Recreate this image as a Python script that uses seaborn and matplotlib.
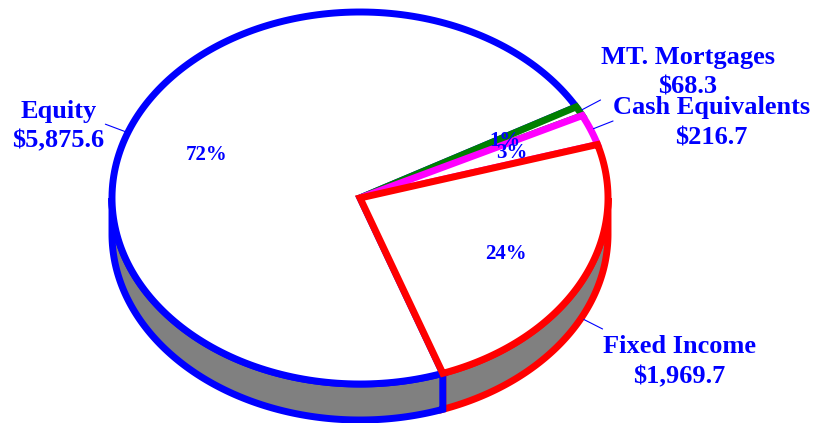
import numpy as np
import matplotlib
matplotlib.use("Agg")
import matplotlib.pyplot as plt
from matplotlib.patches import Polygon
import seaborn as sns

# data
labels = ["Fixed Income", "Cash Equivalents", "MT. Mortgages", "Equity"]
values = [1969.7, 216.7, 68.3, 5875.6]
value_text = ["$1,969.7", "$216.7", "$68.3", "$5,875.6"]
colors = ["#ff0000", "#ff00ff", "#008000", "#0000ff"]

sns.set_theme(style="white")
plt.rcParams["font.family"] = ["Liberation Serif", "DejaVu Serif"]

fig = plt.figure(figsize=(8.16, 4.23), dpi=100)
ax = fig.add_axes([0, 0, 1, 1])
ax.set_xlim(0, 816)
ax.set_ylim(423, 0)
ax.axis("off")

cx, cy = 360, 198
rx, ry = 248, 186
depth = 36
lw = 5
start = -70.5

total = sum(values)
spans = [v / total * 360 for v in values]
t0 = start + np.concatenate([[0], np.cumsum(spans)[:-1]])
t1 = t0 + np.array(spans)


def arc(a, b, dy=0, n=200):
    t = np.radians(np.linspace(a, b, n))
    return np.column_stack([cx + rx * np.cos(t), cy - ry * np.sin(t) + dy])


# side walls (front half only), fixed income first so equity edge sits on top
for i in [0, 3]:
    a, b = t0[i], t1[i]
    lo, hi = max(a, -180), min(b, 0)
    if a > 0:
        lo, hi = max(a - 360, -180), min(b - 360, 0)
    if hi <= lo:
        continue
    pts = np.vstack([arc(lo, hi), arc(hi, lo, depth)])
    ax.add_patch(Polygon(pts, closed=True, facecolor="#808080",
                         edgecolor=colors[i], lw=lw, joinstyle="miter"))

# top faces
for i in [3, 2, 1, 0]:
    pts = np.vstack([[cx, cy], arc(t0[i], t1[i])])
    ax.add_patch(Polygon(pts, closed=True, facecolor="white",
                         edgecolor=colors[i], lw=lw, joinstyle="miter"))

# percent labels
for i in range(4):
    m = np.radians((t0[i] + t1[i]) / 2)
    ax.text(cx + 0.66 * rx * np.cos(m), cy - 0.66 * ry * np.sin(m),
            "%.0f%%" % (values[i] / total * 100), color="#0000ff",
            fontsize=15, fontweight="bold", ha="center", va="center")

# leader lines and outer labels
align = [("left", "top"), ("left", "center"), ("left", "bottom"), ("right", "center")]
for i in range(4):
    md = ((t0[i] + t1[i]) / 2) % 360
    m = np.radians(md)
    dy = depth if md > 180 else 0
    ux, uy = np.cos(m), -np.sin(m)
    px, py = cx + rx * ux, cy + ry * uy + dy
    x0, y0 = px + 3 * ux, py + 3 * uy
    x1, y1 = px + 24 * ux, py + 24 * uy
    ax.plot([x0, x1], [y0, y1], color="#0000ff", lw=0.8)
    ha, va = align[i]
    ox = -1 if ha == "right" else 0
    oy = {"top": 6, "center": 2, "bottom": -1}[va]
    ax.text(x1 + ox, y1 + oy, labels[i] + "\n" + value_text[i], color="#0000ff",
            fontsize=19, fontweight="bold", ha=ha, va=va,
            multialignment="center", linespacing=1.4)

fig.savefig("out.png", dpi=100)
